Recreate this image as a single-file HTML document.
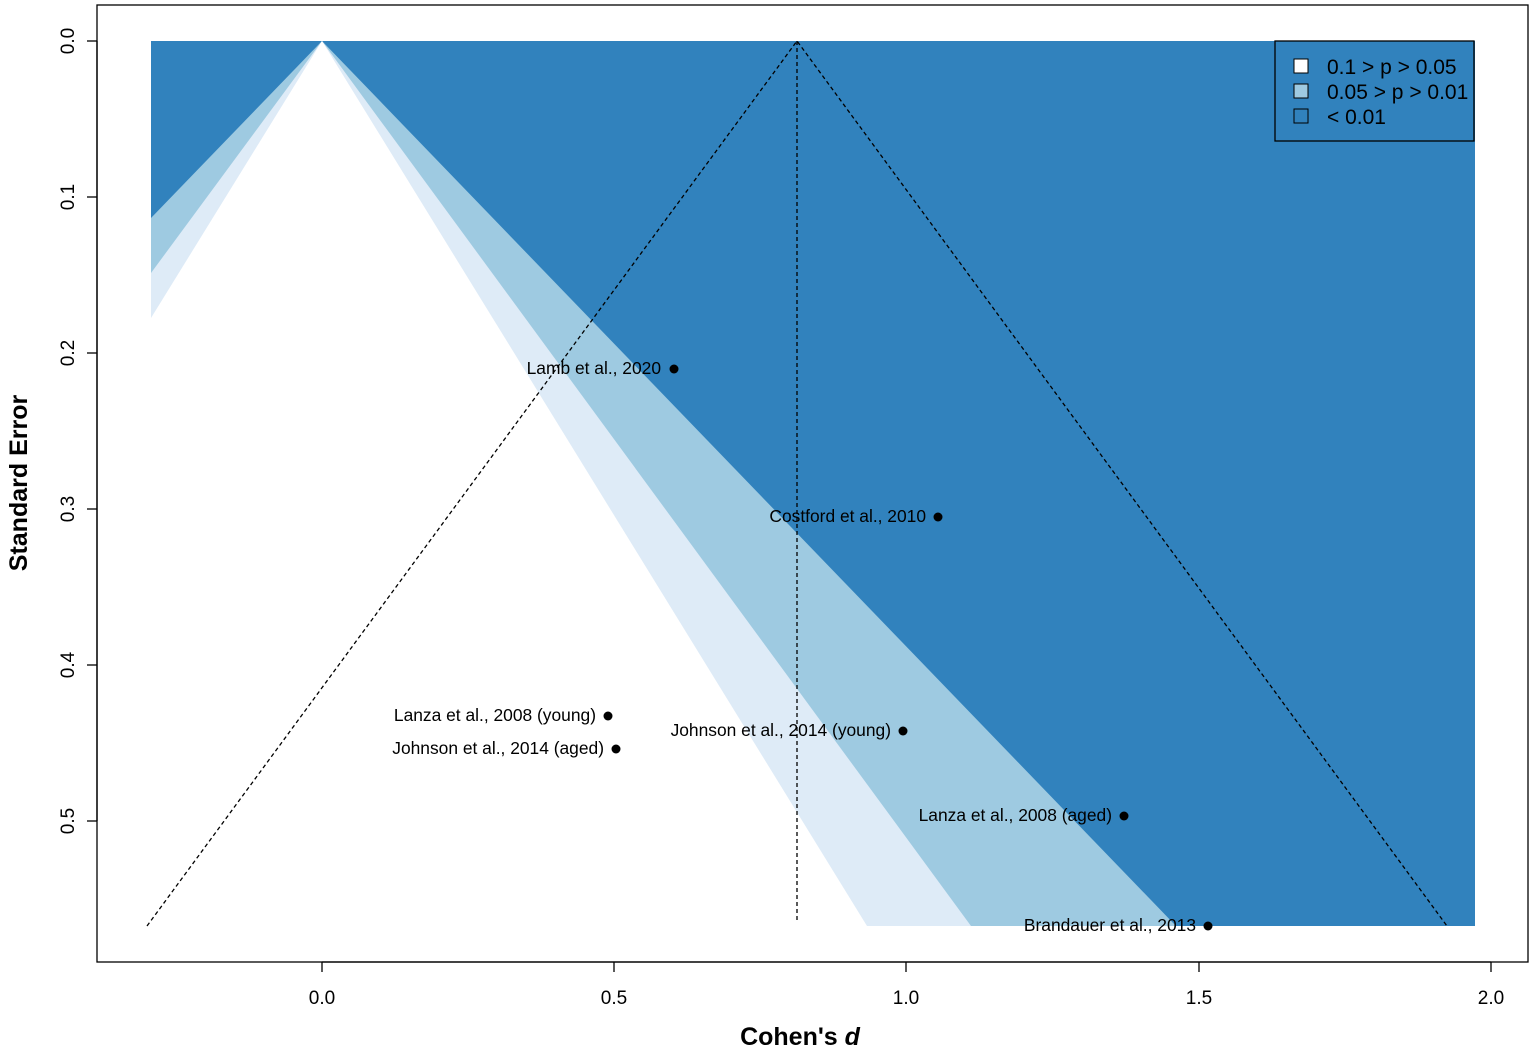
<!DOCTYPE html>
<html><head><meta charset="utf-8"><style>body{margin:0;background:#fff}</style></head><body>
<svg width="1535" height="1053" xmlns="http://www.w3.org/2000/svg" font-family="Liberation Sans, Arial, sans-serif">
<rect width="1535" height="1053" fill="#fff"/>
<rect x="151" y="41" width="1324" height="885" fill="#3182bd"/>
<polygon points="322,41 1176,926 151,926 151,218" fill="#9ecae1"/>
<polygon points="322,41 971,926 151,926 151,273" fill="#deebf7"/>
<polygon points="322,41 867,926 151,926 151,318" fill="#fff"/>
<g stroke="#000" stroke-width="1.3" stroke-dasharray="4,3" fill="none">
<line x1="797" y1="41" x2="797" y2="922"/>
<polyline points="147,926 797,41 1447,926"/>
</g>
<rect x="97" y="5" width="1431" height="957" fill="none" stroke="#000" stroke-width="1.3"/>
<g stroke="#000" stroke-width="1.3">
<line x1="322" y1="962" x2="1491" y2="962"/>
<line x1="322" y1="962" x2="322" y2="972"/><line x1="614" y1="962" x2="614" y2="972"/><line x1="906" y1="962" x2="906" y2="972"/><line x1="1199" y1="962" x2="1199" y2="972"/><line x1="1491" y1="962" x2="1491" y2="972"/>
<line x1="97" y1="41" x2="97" y2="821"/>
<line x1="87" y1="41" x2="97" y2="41"/><line x1="87" y1="197" x2="97" y2="197"/><line x1="87" y1="353" x2="97" y2="353"/><line x1="87" y1="509" x2="97" y2="509"/><line x1="87" y1="665" x2="97" y2="665"/><line x1="87" y1="821" x2="97" y2="821"/>
</g>
<g font-size="19" text-anchor="middle" fill="#000">
<text x="322" y="1004">0.0</text><text x="614" y="1004">0.5</text><text x="906" y="1004">1.0</text><text x="1199" y="1004">1.5</text><text x="1491" y="1004">2.0</text>
<g transform="rotate(-90)">
<text x="-41" y="74">0.0</text><text x="-197" y="74">0.1</text><text x="-353" y="74">0.2</text><text x="-509" y="74">0.3</text><text x="-665" y="74">0.4</text><text x="-821" y="74">0.5</text>
</g>
</g>
<text x="800" y="1045" font-size="25" font-weight="bold" text-anchor="middle">Cohen's <tspan font-style="italic">d</tspan></text>
<text transform="rotate(-90)" x="-483" y="27" font-size="25" font-weight="bold" text-anchor="middle">Standard Error</text>
<g fill="#000">
<circle cx="674" cy="369" r="4.5"/><circle cx="938" cy="517" r="4.5"/><circle cx="608" cy="716" r="4.5"/><circle cx="616" cy="749" r="4.5"/><circle cx="903" cy="731" r="4.5"/><circle cx="1124" cy="816" r="4.5"/><circle cx="1208" cy="926" r="4.5"/>
</g>
<g font-size="17.4" text-anchor="end" fill="#000">
<text x="661" y="374">Lamb et al., 2020</text>
<text x="926" y="522">Costford et al., 2010</text>
<text x="596" y="721">Lanza et al., 2008 (young)</text>
<text x="604" y="754">Johnson et al., 2014 (aged)</text>
<text x="891" y="736">Johnson et al., 2014 (young)</text>
<text x="1112" y="821">Lanza et al., 2008 (aged)</text>
<text x="1196" y="931">Brandauer et al., 2013</text>
</g>
<rect x="1275" y="41" width="199" height="100" fill="#3182bd" stroke="#000" stroke-width="1.3"/>
<rect x="1294" y="59" width="14" height="14" fill="#fff" stroke="#000"/>
<rect x="1294" y="84" width="14" height="14" fill="#9ecae1" stroke="#000"/>
<rect x="1294" y="109" width="14" height="14" fill="#3182bd" stroke="#000"/>
<g font-size="21" fill="#000">
<text x="1327" y="74">0.1 &gt; p &gt; 0.05</text>
<text x="1327" y="99">0.05 &gt; p &gt; 0.01</text>
<text x="1327" y="124">&lt; 0.01</text>
</g>
</svg>
</body></html>
